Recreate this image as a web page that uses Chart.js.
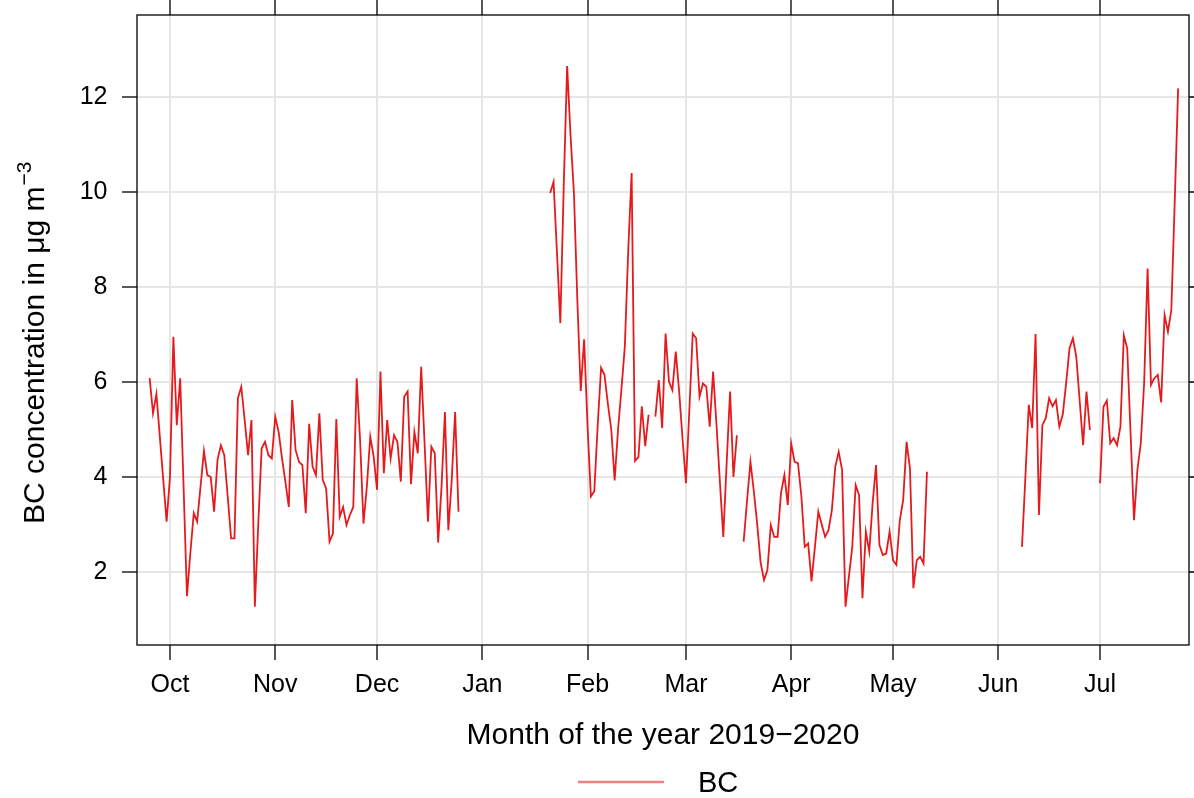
<!DOCTYPE html>
<html>
<head>
<meta charset="utf-8">
<title>BC concentration 2019-2020</title>
<script src="https://cdn.jsdelivr.net/npm/chart.js@4.4.1/dist/chart.umd.min.js"></script>
<style>
  html, body { margin: 0; padding: 0; background: #ffffff; }
  #wrap { width: 1194px; height: 798px; }
</style>
</head>
<body>
<div id="wrap"><canvas id="bc" width="1194" height="798"></canvas></div>
<script>
// Day numbers are counted from 1 October 2019 (day 0).
const monthLabels = ['Oct', 'Nov', 'Dec', 'Jan', 'Feb', 'Mar', 'Apr', 'May', 'Jun', 'Jul'];
const monthStartDays = [0, 31, 61, 92, 123, 152, 183, 213, 244, 274];
const yTickValues = [2, 4, 6, 8, 10, 12];

// Daily BC means, 25 Sep - 25 Dec 2019
const autumnStartDay = -6;
const autumnBC = [
  6.08, 5.34, 5.75, 4.85, 3.95, 3.06, 4.0, 6.95, 5.09, 6.08,
  3.8, 1.49, 2.4, 3.24, 3.06, 3.8, 4.55, 4.04, 4.0, 3.27,
  4.36, 4.67, 4.46, 3.59, 2.71, 2.71, 5.66, 5.9, 5.2, 4.46,
  5.2, 1.27, 3.0, 4.6, 4.74, 4.46, 4.39, 5.27, 4.95, 4.4,
  3.9, 3.37, 5.62, 4.57, 4.32, 4.25, 3.24, 5.12, 4.22, 4.04,
  5.34, 3.94, 3.76, 2.64, 2.81, 5.22, 3.16, 3.37, 2.99, 3.2,
  3.37, 6.08, 4.78, 3.02, 3.8, 4.85, 4.43, 3.73, 6.22, 4.08,
  5.2, 4.39, 4.88, 4.74, 3.9, 5.69, 5.8, 3.85, 4.95, 4.5,
  6.32, 4.71, 3.06, 4.64, 4.5, 2.62, 3.8, 5.37, 2.88, 3.94,
  5.37, 3.27
];

// Daily BC means, 21 Jan - 11 May 2020 (null = missing day)
const springStartDay = 112;
const springBC = [
  9.98, 10.21, 8.73, 7.24, 10.13, 12.65, 11.19, 9.98, 7.73, 5.81,
  6.9, 5.09, 3.59, 3.7, 5.09, 6.3, 6.15, 5.54, 5.0, 3.93,
  5.0, 5.85, 6.75, 8.78, 10.4, 4.34, 4.42, 5.49, 4.65, 5.31,
  null, 5.27, 6.04, 5.03, 7.02, 6.01, 5.83, 6.64, 5.8, 4.8,
  3.87, 5.4, 7.02, 6.92, 5.69, 5.97, 5.9, 5.06, 6.22, 5.1,
  3.9, 2.74, 4.3, 5.8, 4.0, 4.88, null, 2.64, 3.5, 4.32,
  3.7, 3.0, 2.2, 1.83, 2.04, 2.99, 2.74, 2.74, 3.66, 4.04,
  3.41, 4.71, 4.32, 4.29, 3.6, 2.53, 2.6, 1.8, 2.53, 3.27,
  3.0, 2.74, 2.88, 3.31, 4.22, 4.53, 4.15, 1.27, 1.9, 2.53,
  3.83, 3.62, 1.45, 2.85, 2.43, 3.45, 4.25, 2.57, 2.36, 2.39,
  2.85, 2.25, 2.15, 3.09, 3.52, 4.74, 4.18, 1.66, 2.25, 2.32,
  2.18, 4.11
];

// Daily BC means, 8 Jun - 24 Jul 2020
const summerStartDay = 251;
const summerBC = [
  2.53, 4.0, 5.52, 5.03, 7.01, 3.2, 5.09, 5.24, 5.66, 5.49,
  5.62, 5.06, 5.31, 5.97, 6.71, 6.92, 6.53, 5.6, 4.67, 5.8,
  4.99, null, null, 3.87, 5.48, 5.61, 4.71, 4.82, 4.67, 5.06,
  6.98, 6.71, 4.9, 3.09, 4.15, 4.71, 6.0, 8.39, 5.94, 6.08,
  6.15, 5.57, 7.41, 7.06, 7.52, 9.8, 12.18
];

const seriesName = 'BC';
const lineColour = '#E41A1C';

// Turn each block into {x, y} points; a null after each block breaks the line.
function toPoints(startDay, values) {
  const pts = values.map((v, i) => ({ x: startDay + i, y: v }));
  pts.push({ x: startDay + values.length - 0.5, y: null });
  return pts;
}
const points = [
  ...toPoints(autumnStartDay, autumnBC),
  ...toPoints(springStartDay, springBC),
  ...toPoints(summerStartDay, summerBC)
];

const FONT = '"Liberation Sans", Arial, Helvetica, sans-serif';
Chart.defaults.font.family = FONT;
Chart.defaults.color = '#000000';

const CANVAS_W = 1194, CANVAS_H = 798;
const PLOT_LEFT = 137, PLOT_RIGHT = 1189, PLOT_TOP = 15, PLOT_BOTTOM = 645;
const TICK_LEN = 15;

// Frame, outer ticks on top/right, axis titles and the key.
const decorations = {
  id: 'decorations',
  afterDraw(chart) {
    const { ctx, chartArea: a, scales } = chart;
    ctx.save();
    ctx.strokeStyle = '#000000';
    ctx.lineWidth = 1.3;
    ctx.strokeRect(a.left, a.top, a.right - a.left, a.bottom - a.top);

    ctx.beginPath();
    monthStartDays.forEach(d => {
      const px = Math.round(scales.x.getPixelForValue(d));
      ctx.moveTo(px, a.top);
      ctx.lineTo(px, a.top - TICK_LEN);
    });
    yTickValues.forEach(v => {
      const py = Math.round(scales.y.getPixelForValue(v));
      ctx.moveTo(a.right, py);
      ctx.lineTo(a.right + TICK_LEN, py);
    });
    ctx.stroke();

    // x axis title
    ctx.fillStyle = '#000000';
    ctx.font = '30px ' + FONT;
    ctx.textAlign = 'center';
    ctx.textBaseline = 'alphabetic';
    ctx.fillText('Month of the year 2019\u22122020', (a.left + a.right) / 2, 744);

    // y axis title with superscript unit exponent
    ctx.save();
    ctx.translate(44, 524);
    ctx.rotate(-Math.PI / 2);
    ctx.textAlign = 'left';
    ctx.font = '30px ' + FONT;
    const main = 'BC concentration in \u03bcg m';
    ctx.fillText(main, 0, 0);
    const w = ctx.measureText(main).width;
    ctx.font = '21px ' + FONT;
    ctx.fillText('\u22123', w + 1, -13);
    ctx.restore();

    // key
    ctx.strokeStyle = 'rgba(228,26,28,0.55)';
    ctx.lineWidth = 2.5;
    ctx.beginPath();
    ctx.moveTo(578, 782);
    ctx.lineTo(664, 782);
    ctx.stroke();
    ctx.font = '29px ' + FONT;
    ctx.textAlign = 'left';
    ctx.fillText(seriesName, 698, 792);
    ctx.restore();
  }
};

new Chart(document.getElementById('bc'), {
  type: 'line',
  data: {
    datasets: [{
      label: seriesName,
      data: points,
      borderColor: lineColour,
      backgroundColor: lineColour,
      borderWidth: 1.8,
      pointRadius: 0,
      tension: 0,
      spanGaps: false,
      fill: false
    }]
  },
  options: {
    responsive: false,
    animation: false,
    layout: { padding: { top: PLOT_TOP, right: CANVAS_W - PLOT_RIGHT, left: 0, bottom: 0 } },
    plugins: { legend: { display: false }, tooltip: { enabled: false } },
    scales: {
      x: {
        type: 'linear',
        min: -9.72,
        max: 300.2,
        afterBuildTicks(scale) { scale.ticks = monthStartDays.map(v => ({ value: v })); },
        afterFit(scale) {
          scale.height = CANVAS_H - PLOT_BOTTOM;
          scale.paddingLeft = 0;
          scale.paddingRight = 0;
        },
        ticks: {
          autoSkip: false,
          maxRotation: 0,
          padding: 10,
          font: { size: 25 },
          color: '#000000',
          callback(value) {
            const i = monthStartDays.indexOf(value);
            return i >= 0 ? monthLabels[i] : '';
          }
        },
        grid: {
          color: '#e6e6e6',
          lineWidth: 2,
          tickColor: '#000000',
          tickLength: TICK_LEN,
          tickWidth: 1.3
        },
        border: { display: false }
      },
      y: {
        type: 'linear',
        min: 0.464,
        max: 13.725,
        afterBuildTicks(scale) { scale.ticks = yTickValues.map(v => ({ value: v })); },
        afterFit(scale) {
          scale.width = PLOT_LEFT;
          scale.paddingTop = 0;
          scale.paddingBottom = 0;
        },
        ticks: {
          padding: 14.5,
          font: { size: 25 },
          color: '#000000',
          callback(value) { return String(value); }
        },
        grid: {
          color: '#e6e6e6',
          lineWidth: 2,
          tickColor: '#000000',
          tickLength: TICK_LEN,
          tickWidth: 1.3
        },
        border: { display: false }
      }
    }
  },
  plugins: [decorations]
});
</script>
</body>
</html>
